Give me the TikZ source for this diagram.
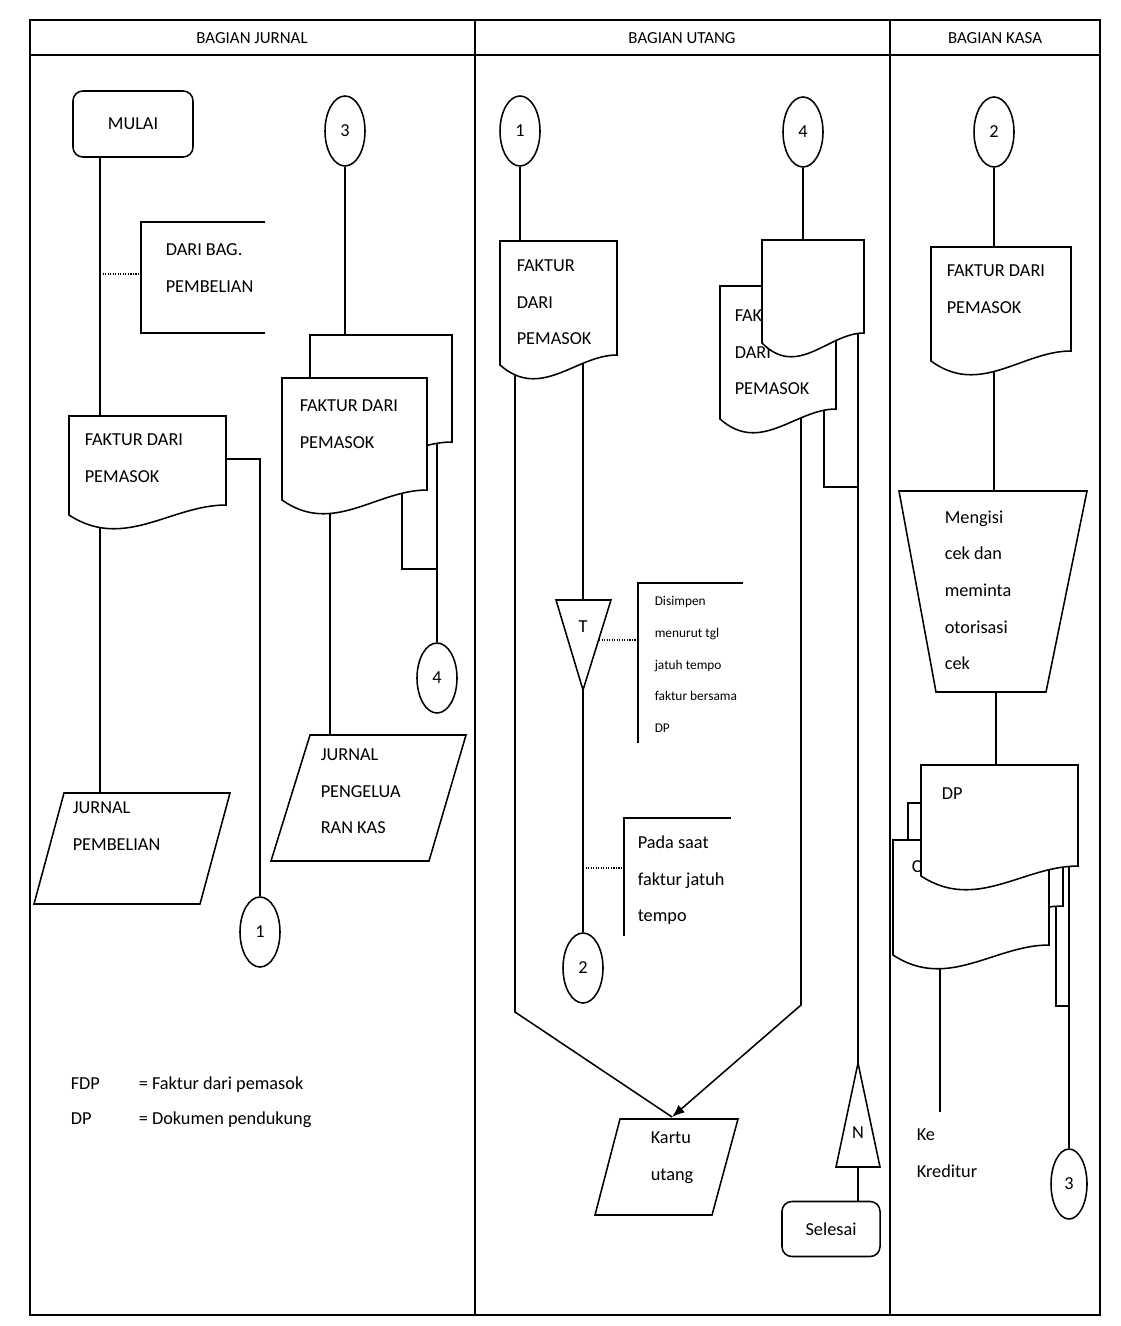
\documentclass[tikz,border=0pt]{standalone}
\usepackage{fontspec}
\setmainfont{Carlito}
\usetikzlibrary{shapes.geometric,arrows.meta}

\newcommand{\dok}[4]{%
  \pgfmathsetmacro\dw{#3-#1}
  \filldraw[fill=white] (#1,#2) -- (#3,#2) -- (#3,#4)
    .. controls +(-0.35*\dw,0) and +(0.35*\dw,36) .. (#1,#4+10) -- cycle;}

\begin{document}
\begin{tikzpicture}[x=0.025cm,y=-0.025cm,line width=1.1pt,
  every node/.style={font=\fontsize{13}{26}\selectfont},
  konektor/.style={draw,fill=white,ellipse,minimum width=1cm,minimum height=1.75cm,inner sep=0pt},
  terminal/.style={draw,fill=white,rounded corners=7pt,inner sep=0pt},
  teks/.style={anchor=north west,align=left,inner sep=0pt},
  kecil/.style={teks,font=\fontsize{9.5}{22.5}\selectfont},
  titik/.style={line width=0.8pt,densely dotted}]

\useasboundingbox (0,0) rectangle (1120,1326);

% kerangka
\draw[line width=1.4pt] (30,20) rectangle (1100,1315);
\draw[line width=1.4pt] (30,55) -- (1100,55);
\draw[line width=1.4pt] (475,20) -- (475,1315);
\draw[line width=1.4pt] (890,20) -- (890,1315);
\node[font=\fontsize{12}{14}\selectfont] (hjurnal) at (252,38) {BAGIAN JURNAL};
\node[font=\fontsize{12}{14}\selectfont] (hutang) at (682,38) {BAGIAN UTANG};
\node[font=\fontsize{12}{14}\selectfont] (hkasa) at (995,38) {BAGIAN KASA};

% bagian jurnal
\node[terminal,minimum width=3cm,minimum height=1.65cm] (mulai) at (133,124) {MULAI};
\coordinate (j1) at (100,416);
\coordinate (jb) at (100,793);
\draw (mulai.south -| j1) -- (jb);
\coordinate (ket1) at (141,274);
\draw[titik] (ket1 -| j1) -- (ket1);
\draw (265,222) -| (ket1) |- (265,333);
\node[teks] (daribag) at (165,243) {DARI BAG.\\PEMBELIAN};
\node[konektor] (k1a) at (260,932) {1};
\coordinate (fdp1r) at (226,459);
\draw (fdp1r) -| (k1a.north);
\dok{69}{416}{226}{505}
\node[teks] (fdp1) at (84,433) {FAKTUR DARI\\PEMASOK};
\draw (64,793) -- (230,793) -- (200,904) -- (34,904) -- cycle;
\node[teks] (jbeli) at (72,801) {JURNAL\\PEMBELIAN};

\node[konektor] (k3a) at (345,131) {3};
\coordinate (fdp3b) at (345,335);
\draw (k3a.south) -- (fdp3b);
\node[konektor] (k4a) at (437,678) {4};
\coordinate (fdp3bo) at (437,440);
\draw (fdp3bo) -- (k4a.north);
\coordinate (gab1) at (437,569);
\draw (402,470) |- (gab1);
\coordinate (jpk) at (330,735);
\draw (330,480) -- (jpk);
\dok{310}{335}{452}{442}
\dok{282}{378}{427}{490}
\node[teks] (fdp3) at (299,399) {FAKTUR DARI\\PEMASOK};
\draw (310,735) -- (466,735) -- (429,861) -- (271,861) -- cycle;
\node[teks] (jkas) at (320,748) {JURNAL\\PENGELUA\\RAN KAS};

\node[anchor=west,inner sep=0pt] (lfdp) at (70,1084) {FDP};
\node[anchor=west,inner sep=0pt] (lfdpk) at (138,1085) {= Faktur dari pemasok};
\node[anchor=west,inner sep=0pt] (ldp) at (70,1119) {DP};
\node[anchor=west,inner sep=0pt] (ldpk) at (138,1120) {= Dokumen pendukung};

% bagian utang
\node[konektor] (k1b) at (520,131) {1};
\coordinate (fdp2) at (520,241);
\draw (k1b.south) -- (fdp2);
\coordinate (sudut1) at (515,1012);
\coordinate (kartu) at (672,1117);
\draw (515,360) -- (sudut1) -- (kartu);
\coordinate (sudut2) at (801,1005);
\draw[-{Latex[length=9pt,width=7pt]}] (801,400) -- (sudut2) -- (kartu);
\coordinate (tatas) at (583,600);
\coordinate (tbawah) at (583,690);
\draw (583,350) -- (tatas);
\node[konektor] (k2b) at (583,968) {2};
\draw (tbawah) -- (k2b.north);
\coordinate (ket2) at (638,640);
\draw[titik] (599,640) -- (ket2);
\draw (743,583) -| (ket2) -- (638,743);
\node[kecil] (simpan) at (654,596) {Disimpen\\menurut tgl\\jatuh tempo\\faktur bersama\\DP};
\coordinate (ket3) at (624,868);
\draw[titik] (ket3 -| k2b) -- (ket3);
\draw (731,818) -| (ket3) -- (624,936);
\node[teks] (padasaat) at (637,835) {Pada saat\\faktur jatuh\\tempo};
\dok{500}{241}{617}{355}
\node[teks] (fdp2t) at (516,259) {FAKTUR\\DARI\\PEMASOK};
\filldraw[fill=white] (556,600) -- (611,600) -- (tbawah) -- cycle;
\node (tsimpan) at (583,627) {T};
\draw (620,1119) -- (738,1119) -- (712,1215) -- (595,1215) -- cycle;
\node[teks] (kartutxt) at (650,1131) {Kartu\\utang};

\node[konektor] (k4b) at (803,132) {4};
\coordinate (blank) at (803,240);
\draw (k4b.south) -- (blank);
\coordinate (gab2) at (858,487);
\draw (824,400) |- (gab2);
\coordinate (nat) at (858,1063);
\draw (858,320) -- (nat);
\dok{720}{286}{836}{409}
\node[teks] (fdpu) at (734,309) {FAKTUR\\DARI\\PEMASOK};
\dok{762}{240}{864}{333}
\filldraw[fill=white] (nat) -- (880,1167) -- (836,1167) -- cycle;
\node (ntxt) at (858,1133) {N};
\node[terminal,minimum width=2.45cm,minimum height=1.375cm] (selesai) at (831,1229) {Selesai};
\coordinate (nbawah) at (858,1167);
\draw (nbawah) -- (nbawah |- selesai.north);

% bagian kasa
\node[konektor] (k2c) at (994,132) {2};
\coordinate (fdp4) at (994,247);
\draw (k2c.south) -- (fdp4);
\coordinate (trap) at (994,491);
\draw (994,360) -- (trap);
\dok{931}{247}{1071}{351}
\node[teks] (fdp4t) at (946,264) {FAKTUR DARI\\PEMASOK};
\filldraw[fill=white] (899,491) -- (1087,491) -- (1046,692) -- (936,692) -- cycle;
\node[teks] (isicek) at (944,510) {Mengisi\\cek dan\\meminta\\otorisasi\\cek};
\coordinate (trapb) at (996,692);
\draw (trapb) -- (996,765);
\node[konektor,minimum width=0.9cm] (k3c) at (1069,1184) {3};
\draw (1069,860) -- (k3c.north);
\coordinate (gab3) at (1069,1006);
\draw (1056,900) |- (gab3);
\coordinate (kredit) at (940,1112);
\draw (940,960) -- (kredit);
\dok{908}{803}{1063}{906}
\dok{893}{840}{1049}{945}
\node[teks] (ctxt) at (911,860) {C};
\dok{921}{765}{1078}{866}
\node[teks] (dptxt) at (941,787) {DP};
\node[teks] (kekred) at (916,1128) {Ke\\Kreditur};
\end{tikzpicture}
\end{document}
